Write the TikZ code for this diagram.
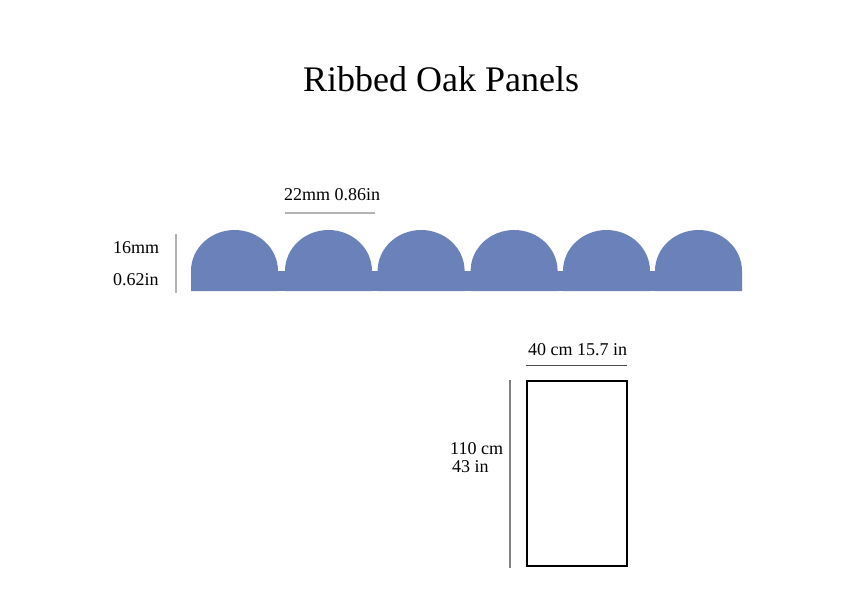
\documentclass[tikz,border=0pt]{standalone}
\usepackage{fontspec}
\setmainfont{Liberation Serif}
\definecolor{c0}{HTML}{6A81B9}
\definecolor{c1}{HTML}{B4B4B8}
\definecolor{c2}{HTML}{808080}
\tikzset{%
  label/.style={anchor=base west,inner sep=0pt,font=\fontsize{#1}{#1}\selectfont},
  label/.default=18,
  dimlight/.style={c1,line width=1.3pt},
  dimdark/.style={c2,line width=1.3pt}
}
\NewDocumentCommand\rib{}{%
  \fill[c0] (0,41) arc[start angle=180,end angle=360,x radius=43.5,y radius=41] -- (87,61) -- (0,61) -- cycle;
}
\begin{document}
\begin{tikzpicture}[x=1pt,y=-1pt]
  \useasboundingbox (0,0) rectangle (842,595);
  \node[label=36] (title) at (303,91) {Ribbed Oak Panels};
  %% Ribs
  \foreach \x in {191,285,377.6,470.6,563,655}{
    \begin{scope}[shift={(\x,230)}]\rib\end{scope}
  }
  \fill[c0] (191,271) rectangle (742,291);
  %% Rib sizes
  \node[label] (ribw) at (284,200) {22mm 0.86in};
  \coordinate (w0) at (285,213);
  \coordinate (w1) at (375,213);
  \draw[dimlight] (w0) -- (w1);
  \node[label] (ribh) at (113,253) {16mm};
  \node[label] (ribi) at (113,285) {0.62in};
  \coordinate (h0) at (176,234);
  \coordinate (h1) at (176,293);
  \draw[dimlight] (h0) -- (h1);
  %% Panel
  \coordinate (p0) at (527,381);
  \coordinate (p1) at (627,381);
  \coordinate (p2) at (627,566);
  \coordinate (p3) at (527,566);
  \draw[black,line width=2pt] (p0) -- (p1) -- (p2) -- (p3) -- cycle;
  \node[label] (panw) at (528,355) {40 cm 15.7 in};
  \coordinate (q0) at (526,365);
  \coordinate (q1) at (627,365);
  \draw[black!70,line width=1pt] (q0) -- (q1);
  \node[label] (panh) at (450,454) {110 cm};
  \node[label] (pani) at (452,472) {43 in};
  \coordinate (r0) at (510,380);
  \coordinate (r1) at (510,568);
  \draw[dimdark] (r0) -- (r1);
\end{tikzpicture}
\end{document}
